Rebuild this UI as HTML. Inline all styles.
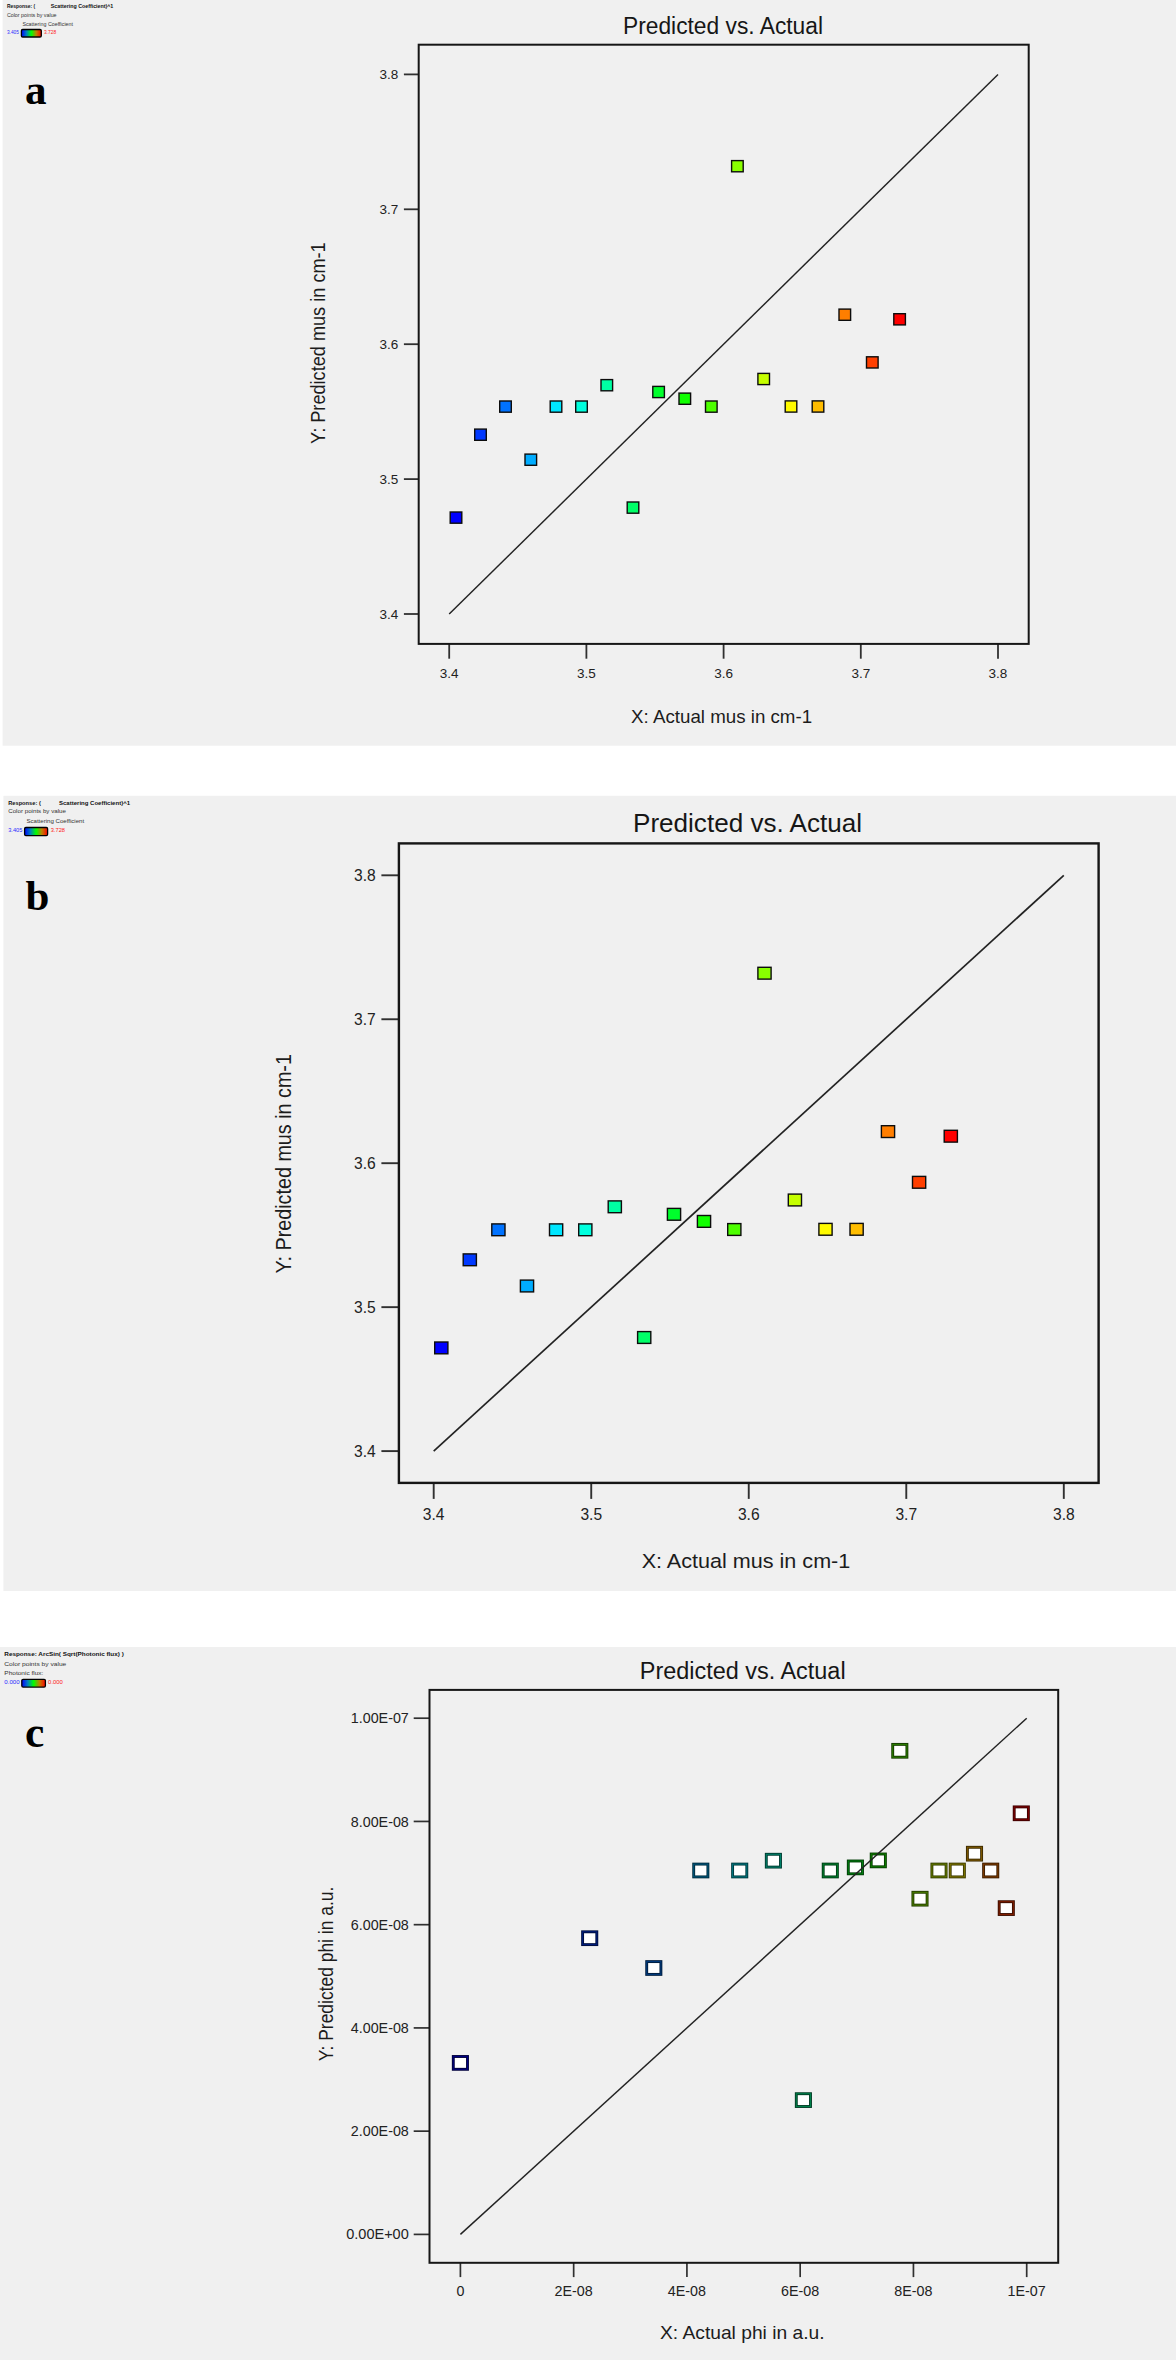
<!DOCTYPE html>
<html lang="en"><head><meta charset="utf-8"><title>Predicted vs. Actual</title>
<style>html,body{margin:0;padding:0;background:#fff}body{width:1176px;height:2360px;overflow:hidden}svg{display:block;font-family:"Liberation Sans", "DejaVu Sans", sans-serif}</style></head><body>
<svg width="1176" height="2360" viewBox="0 0 1176 2360">
<defs><linearGradient id="rb" x1="0" x2="1" y1="0" y2="0"><stop offset="0" stop-color="#0000ff"/><stop offset="0.25" stop-color="#0080c0"/><stop offset="0.5" stop-color="#00ff00"/><stop offset="0.75" stop-color="#c08000"/><stop offset="1" stop-color="#ff0000"/></linearGradient></defs>
<rect width="1176" height="2360" fill="#ffffff"/>
<rect x="2.6" y="0" width="1173.4" height="745.7" fill="#f0f0f0"/>
<line x1="449.20" y1="643.90" x2="449.20" y2="658.70" stroke="#303030" stroke-width="1.8"/>
<text x="449.20" y="677.90" font-size="13.5" text-anchor="middle" fill="#222">3.4</text>
<line x1="586.40" y1="643.90" x2="586.40" y2="658.70" stroke="#303030" stroke-width="1.8"/>
<text x="586.40" y="677.90" font-size="13.5" text-anchor="middle" fill="#222">3.5</text>
<line x1="723.60" y1="643.90" x2="723.60" y2="658.70" stroke="#303030" stroke-width="1.8"/>
<text x="723.60" y="677.90" font-size="13.5" text-anchor="middle" fill="#222">3.6</text>
<line x1="860.80" y1="643.90" x2="860.80" y2="658.70" stroke="#303030" stroke-width="1.8"/>
<text x="860.80" y="677.90" font-size="13.5" text-anchor="middle" fill="#222">3.7</text>
<line x1="998.00" y1="643.90" x2="998.00" y2="658.70" stroke="#303030" stroke-width="1.8"/>
<text x="998.00" y="677.90" font-size="13.5" text-anchor="middle" fill="#222">3.8</text>
<line x1="403.90" y1="614.00" x2="418.70" y2="614.00" stroke="#303030" stroke-width="1.8"/>
<text x="398.30" y="618.79" font-size="13.5" text-anchor="end" fill="#222">3.4</text>
<line x1="403.90" y1="479.10" x2="418.70" y2="479.10" stroke="#303030" stroke-width="1.8"/>
<text x="398.30" y="483.89" font-size="13.5" text-anchor="end" fill="#222">3.5</text>
<line x1="403.90" y1="344.20" x2="418.70" y2="344.20" stroke="#303030" stroke-width="1.8"/>
<text x="398.30" y="348.99" font-size="13.5" text-anchor="end" fill="#222">3.6</text>
<line x1="403.90" y1="209.30" x2="418.70" y2="209.30" stroke="#303030" stroke-width="1.8"/>
<text x="398.30" y="214.09" font-size="13.5" text-anchor="end" fill="#222">3.7</text>
<line x1="403.90" y1="74.40" x2="418.70" y2="74.40" stroke="#303030" stroke-width="1.8"/>
<text x="398.30" y="79.19" font-size="13.5" text-anchor="end" fill="#222">3.8</text>
<rect x="418.7" y="44.7" width="610.00" height="599.20" fill="none" stroke="#161616" stroke-width="2.0"/>
<line x1="449.2" y1="614" x2="998" y2="74.4" stroke="#222" stroke-width="1.45"/>
<rect x="450.20" y="512.00" width="11.60" height="11.20" fill="#0000ff" stroke="#0c0c0c" stroke-width="1.4"/>
<rect x="474.70" y="429.10" width="11.60" height="11.20" fill="#0038ff" stroke="#0c0c0c" stroke-width="1.4"/>
<rect x="499.70" y="401.00" width="11.60" height="11.20" fill="#0072ff" stroke="#0c0c0c" stroke-width="1.4"/>
<rect x="525.00" y="454.10" width="11.60" height="11.20" fill="#00acff" stroke="#0c0c0c" stroke-width="1.4"/>
<rect x="550.20" y="401.00" width="11.60" height="11.20" fill="#00e6ff" stroke="#0c0c0c" stroke-width="1.4"/>
<rect x="575.70" y="401.00" width="11.60" height="11.20" fill="#00ffdd" stroke="#0c0c0c" stroke-width="1.4"/>
<rect x="601.00" y="379.60" width="11.60" height="11.20" fill="#00ffa3" stroke="#0c0c0c" stroke-width="1.4"/>
<rect x="627.20" y="502.00" width="11.60" height="11.20" fill="#00ff67" stroke="#0c0c0c" stroke-width="1.4"/>
<rect x="652.80" y="386.40" width="11.60" height="11.20" fill="#00ff2c" stroke="#0c0c0c" stroke-width="1.4"/>
<rect x="679.00" y="393.10" width="11.60" height="11.20" fill="#10ff00" stroke="#0c0c0c" stroke-width="1.4"/>
<rect x="705.50" y="401.00" width="11.60" height="11.20" fill="#4dff00" stroke="#0c0c0c" stroke-width="1.4"/>
<rect x="731.60" y="160.60" width="11.60" height="11.20" fill="#89ff00" stroke="#0c0c0c" stroke-width="1.4"/>
<rect x="757.90" y="373.40" width="11.60" height="11.20" fill="#c6ff00" stroke="#0c0c0c" stroke-width="1.4"/>
<rect x="785.20" y="400.90" width="11.60" height="11.20" fill="#fffa00" stroke="#0c0c0c" stroke-width="1.4"/>
<rect x="812.20" y="400.90" width="11.60" height="11.20" fill="#ffbc00" stroke="#0c0c0c" stroke-width="1.4"/>
<rect x="839.00" y="309.10" width="11.60" height="11.20" fill="#ff7e00" stroke="#0c0c0c" stroke-width="1.4"/>
<rect x="866.50" y="356.80" width="11.60" height="11.20" fill="#ff3f00" stroke="#0c0c0c" stroke-width="1.4"/>
<rect x="893.80" y="313.70" width="11.60" height="11.20" fill="#ff0000" stroke="#0c0c0c" stroke-width="1.4"/>
<text x="723.00" y="33.50" font-size="23" text-anchor="middle" fill="#161616" textLength="200.0" lengthAdjust="spacingAndGlyphs">Predicted vs. Actual</text>
<text x="721.60" y="723.40" font-size="18.4" text-anchor="middle" fill="#1c1c1c" textLength="181.0" lengthAdjust="spacingAndGlyphs">X: Actual mus in cm-1</text>
<text x="325.00" y="343.10" font-size="19.6" text-anchor="middle" fill="#1c1c1c" textLength="201.6" lengthAdjust="spacingAndGlyphs" transform="rotate(-90 325.00 343.10)">Y: Predicted mus in cm-1</text>
<text x="25.00" y="103.80" font-size="43.2" text-anchor="start" fill="#000" font-family='"Liberation Serif", "DejaVu Serif", serif' font-weight="bold">a</text>
<rect x="3.4" y="795.8" width="1172.6" height="795.2" fill="#f0f0f0"/>
<line x1="433.70" y1="1482.90" x2="433.70" y2="1498.90" stroke="#303030" stroke-width="1.9"/>
<text x="433.70" y="1519.60" font-size="15.6" text-anchor="middle" fill="#222">3.4</text>
<line x1="591.23" y1="1482.90" x2="591.23" y2="1498.90" stroke="#303030" stroke-width="1.9"/>
<text x="591.23" y="1519.60" font-size="15.6" text-anchor="middle" fill="#222">3.5</text>
<line x1="748.75" y1="1482.90" x2="748.75" y2="1498.90" stroke="#303030" stroke-width="1.9"/>
<text x="748.75" y="1519.60" font-size="15.6" text-anchor="middle" fill="#222">3.6</text>
<line x1="906.28" y1="1482.90" x2="906.28" y2="1498.90" stroke="#303030" stroke-width="1.9"/>
<text x="906.28" y="1519.60" font-size="15.6" text-anchor="middle" fill="#222">3.7</text>
<line x1="1063.80" y1="1482.90" x2="1063.80" y2="1498.90" stroke="#303030" stroke-width="1.9"/>
<text x="1063.80" y="1519.60" font-size="15.6" text-anchor="middle" fill="#222">3.8</text>
<line x1="381.40" y1="1451.10" x2="398.90" y2="1451.10" stroke="#303030" stroke-width="1.9"/>
<text x="375.80" y="1456.64" font-size="15.6" text-anchor="end" fill="#222">3.4</text>
<line x1="381.40" y1="1307.15" x2="398.90" y2="1307.15" stroke="#303030" stroke-width="1.9"/>
<text x="375.80" y="1312.69" font-size="15.6" text-anchor="end" fill="#222">3.5</text>
<line x1="381.40" y1="1163.20" x2="398.90" y2="1163.20" stroke="#303030" stroke-width="1.9"/>
<text x="375.80" y="1168.74" font-size="15.6" text-anchor="end" fill="#222">3.6</text>
<line x1="381.40" y1="1019.25" x2="398.90" y2="1019.25" stroke="#303030" stroke-width="1.9"/>
<text x="375.80" y="1024.79" font-size="15.6" text-anchor="end" fill="#222">3.7</text>
<line x1="381.40" y1="875.30" x2="398.90" y2="875.30" stroke="#303030" stroke-width="1.9"/>
<text x="375.80" y="880.84" font-size="15.6" text-anchor="end" fill="#222">3.8</text>
<rect x="398.9" y="843.4" width="699.70" height="639.50" fill="none" stroke="#161616" stroke-width="2.4"/>
<line x1="433.7" y1="1451.1" x2="1063.8" y2="875.3" stroke="#222" stroke-width="1.7"/>
<rect x="434.70" y="1342.00" width="13.20" height="11.80" fill="#0000ff" stroke="#0c0c0c" stroke-width="1.4"/>
<rect x="463.20" y="1253.90" width="13.20" height="11.80" fill="#0039ff" stroke="#0c0c0c" stroke-width="1.4"/>
<rect x="491.80" y="1223.90" width="13.20" height="11.80" fill="#0072ff" stroke="#0c0c0c" stroke-width="1.4"/>
<rect x="520.40" y="1280.10" width="13.20" height="11.80" fill="#00acff" stroke="#0c0c0c" stroke-width="1.4"/>
<rect x="549.50" y="1223.90" width="13.20" height="11.80" fill="#00e6ff" stroke="#0c0c0c" stroke-width="1.4"/>
<rect x="578.70" y="1223.90" width="13.20" height="11.80" fill="#00ffde" stroke="#0c0c0c" stroke-width="1.4"/>
<rect x="608.20" y="1200.90" width="13.20" height="11.80" fill="#00ffa3" stroke="#0c0c0c" stroke-width="1.4"/>
<rect x="637.60" y="1331.60" width="13.20" height="11.80" fill="#00ff68" stroke="#0c0c0c" stroke-width="1.4"/>
<rect x="667.40" y="1208.40" width="13.20" height="11.80" fill="#00ff2c" stroke="#0c0c0c" stroke-width="1.4"/>
<rect x="697.40" y="1215.50" width="13.20" height="11.80" fill="#10ff00" stroke="#0c0c0c" stroke-width="1.4"/>
<rect x="727.70" y="1223.60" width="13.20" height="11.80" fill="#4dff00" stroke="#0c0c0c" stroke-width="1.4"/>
<rect x="757.90" y="967.30" width="13.20" height="11.80" fill="#89ff00" stroke="#0c0c0c" stroke-width="1.4"/>
<rect x="788.30" y="1194.10" width="13.20" height="11.80" fill="#c6ff00" stroke="#0c0c0c" stroke-width="1.4"/>
<rect x="818.90" y="1223.40" width="13.20" height="11.80" fill="#fffb00" stroke="#0c0c0c" stroke-width="1.4"/>
<rect x="850.00" y="1223.40" width="13.20" height="11.80" fill="#ffbd00" stroke="#0c0c0c" stroke-width="1.4"/>
<rect x="881.40" y="1125.70" width="13.20" height="11.80" fill="#ff7e00" stroke="#0c0c0c" stroke-width="1.4"/>
<rect x="912.50" y="1176.40" width="13.20" height="11.80" fill="#ff3f00" stroke="#0c0c0c" stroke-width="1.4"/>
<rect x="944.20" y="1130.30" width="13.20" height="11.80" fill="#ff0000" stroke="#0c0c0c" stroke-width="1.4"/>
<text x="747.50" y="831.70" font-size="26" text-anchor="middle" fill="#161616" textLength="229.0" lengthAdjust="spacingAndGlyphs">Predicted vs. Actual</text>
<text x="746.00" y="1568.10" font-size="20.5" text-anchor="middle" fill="#1c1c1c" textLength="208.6" lengthAdjust="spacingAndGlyphs">X: Actual mus in cm-1</text>
<text x="290.80" y="1163.80" font-size="22" text-anchor="middle" fill="#1c1c1c" textLength="219.4" lengthAdjust="spacingAndGlyphs" transform="rotate(-90 290.80 1163.80)">Y: Predicted mus in cm-1</text>
<text x="25.60" y="910.10" font-size="43" text-anchor="start" fill="#000" font-family='"Liberation Serif", "DejaVu Serif", serif' font-weight="bold">b</text>
<rect x="0" y="1647" width="1176" height="713" fill="#f0f0f0"/>
<line x1="460.40" y1="2262.80" x2="460.40" y2="2277.10" stroke="#303030" stroke-width="1.7"/>
<text x="460.40" y="2296.00" font-size="14.3" text-anchor="middle" fill="#222">0</text>
<line x1="573.66" y1="2262.80" x2="573.66" y2="2277.10" stroke="#303030" stroke-width="1.7"/>
<text x="573.66" y="2296.00" font-size="14.3" text-anchor="middle" fill="#222">2E-08</text>
<line x1="686.92" y1="2262.80" x2="686.92" y2="2277.10" stroke="#303030" stroke-width="1.7"/>
<text x="686.92" y="2296.00" font-size="14.3" text-anchor="middle" fill="#222">4E-08</text>
<line x1="800.18" y1="2262.80" x2="800.18" y2="2277.10" stroke="#303030" stroke-width="1.7"/>
<text x="800.18" y="2296.00" font-size="14.3" text-anchor="middle" fill="#222">6E-08</text>
<line x1="913.44" y1="2262.80" x2="913.44" y2="2277.10" stroke="#303030" stroke-width="1.7"/>
<text x="913.44" y="2296.00" font-size="14.3" text-anchor="middle" fill="#222">8E-08</text>
<line x1="1026.70" y1="2262.80" x2="1026.70" y2="2277.10" stroke="#303030" stroke-width="1.7"/>
<text x="1026.70" y="2296.00" font-size="14.3" text-anchor="middle" fill="#222">1E-07</text>
<line x1="413.70" y1="2234.40" x2="429.50" y2="2234.40" stroke="#303030" stroke-width="1.7"/>
<text x="408.80" y="2239.48" font-size="14.3" text-anchor="end" fill="#222" textLength="62.6" lengthAdjust="spacingAndGlyphs">0.00E+00</text>
<line x1="413.70" y1="2131.16" x2="429.50" y2="2131.16" stroke="#303030" stroke-width="1.7"/>
<text x="408.80" y="2136.24" font-size="14.3" text-anchor="end" fill="#222">2.00E-08</text>
<line x1="413.70" y1="2027.92" x2="429.50" y2="2027.92" stroke="#303030" stroke-width="1.7"/>
<text x="408.80" y="2033.00" font-size="14.3" text-anchor="end" fill="#222">4.00E-08</text>
<line x1="413.70" y1="1924.68" x2="429.50" y2="1924.68" stroke="#303030" stroke-width="1.7"/>
<text x="408.80" y="1929.76" font-size="14.3" text-anchor="end" fill="#222">6.00E-08</text>
<line x1="413.70" y1="1821.44" x2="429.50" y2="1821.44" stroke="#303030" stroke-width="1.7"/>
<text x="408.80" y="1826.52" font-size="14.3" text-anchor="end" fill="#222">8.00E-08</text>
<line x1="413.70" y1="1718.20" x2="429.50" y2="1718.20" stroke="#303030" stroke-width="1.7"/>
<text x="408.80" y="1723.28" font-size="14.3" text-anchor="end" fill="#222">1.00E-07</text>
<rect x="429.5" y="1689.9" width="628.70" height="572.90" fill="none" stroke="#161616" stroke-width="2.0"/>
<rect x="453.30" y="2056.50" width="14.2" height="12.8" fill="#ffffff" stroke="#00003d" stroke-width="2.9"/>
<rect x="453.30" y="2056.50" width="14.2" height="12.8" fill="none" stroke="#000080" stroke-width="1"/>
<rect x="582.60" y="1931.80" width="14.2" height="12.8" fill="#ffffff" stroke="#000e3d" stroke-width="2.9"/>
<rect x="582.60" y="1931.80" width="14.2" height="12.8" fill="none" stroke="#001e80" stroke-width="1"/>
<rect x="646.70" y="1961.60" width="14.2" height="12.8" fill="#ffffff" stroke="#001d3d" stroke-width="2.9"/>
<rect x="646.70" y="1961.60" width="14.2" height="12.8" fill="none" stroke="#003c80" stroke-width="1"/>
<rect x="693.70" y="1864.10" width="14.2" height="12.8" fill="#ffffff" stroke="#002b3d" stroke-width="2.9"/>
<rect x="693.70" y="1864.10" width="14.2" height="12.8" fill="none" stroke="#005a80" stroke-width="1"/>
<rect x="732.60" y="1864.10" width="14.2" height="12.8" fill="#ffffff" stroke="#003a3d" stroke-width="2.9"/>
<rect x="732.60" y="1864.10" width="14.2" height="12.8" fill="none" stroke="#007880" stroke-width="1"/>
<rect x="766.30" y="1854.30" width="14.2" height="12.8" fill="#ffffff" stroke="#003d32" stroke-width="2.9"/>
<rect x="766.30" y="1854.30" width="14.2" height="12.8" fill="none" stroke="#008069" stroke-width="1"/>
<rect x="796.30" y="2093.70" width="14.2" height="12.8" fill="#ffffff" stroke="#003d24" stroke-width="2.9"/>
<rect x="796.30" y="2093.70" width="14.2" height="12.8" fill="none" stroke="#00804b" stroke-width="1"/>
<rect x="823.20" y="1864.10" width="14.2" height="12.8" fill="#ffffff" stroke="#003d16" stroke-width="2.9"/>
<rect x="823.20" y="1864.10" width="14.2" height="12.8" fill="none" stroke="#00802d" stroke-width="1"/>
<rect x="848.30" y="1861.00" width="14.2" height="12.8" fill="#ffffff" stroke="#003d07" stroke-width="2.9"/>
<rect x="848.30" y="1861.00" width="14.2" height="12.8" fill="none" stroke="#00800f" stroke-width="1"/>
<rect x="871.20" y="1854.00" width="14.2" height="12.8" fill="#ffffff" stroke="#073d00" stroke-width="2.9"/>
<rect x="871.20" y="1854.00" width="14.2" height="12.8" fill="none" stroke="#0f8000" stroke-width="1"/>
<rect x="892.70" y="1744.40" width="14.2" height="12.8" fill="#ffffff" stroke="#163d00" stroke-width="2.9"/>
<rect x="892.70" y="1744.40" width="14.2" height="12.8" fill="none" stroke="#2d8000" stroke-width="1"/>
<rect x="912.90" y="1892.30" width="14.2" height="12.8" fill="#ffffff" stroke="#243d00" stroke-width="2.9"/>
<rect x="912.90" y="1892.30" width="14.2" height="12.8" fill="none" stroke="#4b8000" stroke-width="1"/>
<rect x="931.90" y="1864.10" width="14.2" height="12.8" fill="#ffffff" stroke="#323d00" stroke-width="2.9"/>
<rect x="931.90" y="1864.10" width="14.2" height="12.8" fill="none" stroke="#698000" stroke-width="1"/>
<rect x="950.20" y="1864.10" width="14.2" height="12.8" fill="#ffffff" stroke="#3d3a00" stroke-width="2.9"/>
<rect x="950.20" y="1864.10" width="14.2" height="12.8" fill="none" stroke="#807800" stroke-width="1"/>
<rect x="967.40" y="1847.30" width="14.2" height="12.8" fill="#ffffff" stroke="#3d2b00" stroke-width="2.9"/>
<rect x="967.40" y="1847.30" width="14.2" height="12.8" fill="none" stroke="#805a00" stroke-width="1"/>
<rect x="983.60" y="1864.10" width="14.2" height="12.8" fill="#ffffff" stroke="#3d1d00" stroke-width="2.9"/>
<rect x="983.60" y="1864.10" width="14.2" height="12.8" fill="none" stroke="#803c00" stroke-width="1"/>
<rect x="999.20" y="1901.70" width="14.2" height="12.8" fill="#ffffff" stroke="#3d0e00" stroke-width="2.9"/>
<rect x="999.20" y="1901.70" width="14.2" height="12.8" fill="none" stroke="#801e00" stroke-width="1"/>
<rect x="1014.20" y="1806.90" width="14.2" height="12.8" fill="#ffffff" stroke="#3d0000" stroke-width="2.9"/>
<rect x="1014.20" y="1806.90" width="14.2" height="12.8" fill="none" stroke="#800000" stroke-width="1"/>
<line x1="460.4" y1="2234.4" x2="1026.7" y2="1718.2" stroke="#222" stroke-width="1.45"/>
<text x="742.70" y="1679.20" font-size="23.5" text-anchor="middle" fill="#161616" textLength="205.8" lengthAdjust="spacingAndGlyphs">Predicted vs. Actual</text>
<text x="742.30" y="2338.90" font-size="18.6" text-anchor="middle" fill="#1c1c1c" textLength="164.6" lengthAdjust="spacingAndGlyphs">X: Actual phi in a.u.</text>
<text x="333.30" y="1973.90" font-size="21" text-anchor="middle" fill="#1c1c1c" textLength="174.5" lengthAdjust="spacingAndGlyphs" transform="rotate(-90 333.30 1973.90)">Y: Predicted phi in a.u.</text>
<text x="25.10" y="1746.60" font-size="43.5" text-anchor="start" fill="#000" font-family='"Liberation Serif", "DejaVu Serif", serif' font-weight="bold">c</text>
<text x="6.90" y="8.00" font-size="5.2" text-anchor="start" fill="#111" font-weight="bold" textLength="28.3" lengthAdjust="spacingAndGlyphs">Response: (</text>
<text x="50.80" y="8.00" font-size="5.2" text-anchor="start" fill="#111" font-weight="bold" textLength="62.5" lengthAdjust="spacingAndGlyphs">Scattering Coefficient)^1</text>
<text x="6.90" y="16.60" font-size="5.2" text-anchor="start" fill="#333" textLength="49.7" lengthAdjust="spacingAndGlyphs">Color points by value</text>
<text x="22.40" y="25.90" font-size="5.2" text-anchor="start" fill="#333" textLength="50.6" lengthAdjust="spacingAndGlyphs">Scattering Coefficient</text>
<text x="6.90" y="34.40" font-size="5.2" text-anchor="start" fill="#2a2aff" textLength="12.0" lengthAdjust="spacingAndGlyphs">3.405</text>
<text x="43.90" y="34.40" font-size="5.2" text-anchor="start" fill="#ff2020" textLength="12.2" lengthAdjust="spacingAndGlyphs">3.728</text>
<rect x="21.4" y="29.5" width="19.90" height="7.50" rx="1.3" fill="url(#rb)" stroke="#000" stroke-width="1.3"/>
<text x="8.20" y="804.50" font-size="5.9" text-anchor="start" fill="#111" font-weight="bold" textLength="32.6" lengthAdjust="spacingAndGlyphs">Response: (</text>
<text x="59.00" y="804.50" font-size="5.9" text-anchor="start" fill="#111" font-weight="bold" textLength="71.0" lengthAdjust="spacingAndGlyphs">Scattering Coefficient)^1</text>
<text x="8.20" y="812.80" font-size="5.9" text-anchor="start" fill="#333" textLength="57.8" lengthAdjust="spacingAndGlyphs">Color points by value</text>
<text x="26.40" y="823.40" font-size="5.9" text-anchor="start" fill="#333" textLength="57.8" lengthAdjust="spacingAndGlyphs">Scattering Coefficient</text>
<text x="8.20" y="831.90" font-size="5.9" text-anchor="start" fill="#2a2aff" textLength="14.2" lengthAdjust="spacingAndGlyphs">3.405</text>
<text x="50.70" y="831.90" font-size="5.9" text-anchor="start" fill="#ff2020" textLength="14.3" lengthAdjust="spacingAndGlyphs">3.728</text>
<rect x="24.6" y="827.5" width="23.00" height="8.10" rx="1.3" fill="url(#rb)" stroke="#000" stroke-width="1.3"/>
<text x="4.30" y="1656.20" font-size="6.2" text-anchor="start" fill="#111" font-weight="bold" textLength="119.5" lengthAdjust="spacingAndGlyphs">Response: ArcSin( Sqrt(Photonic flux) )</text>
<text x="4.30" y="1665.70" font-size="6.2" text-anchor="start" fill="#333" textLength="62.0" lengthAdjust="spacingAndGlyphs">Color points by value</text>
<text x="4.30" y="1674.60" font-size="6.2" text-anchor="start" fill="#333" textLength="39.1" lengthAdjust="spacingAndGlyphs">Photonic flux:</text>
<text x="4.30" y="1684.40" font-size="6.2" text-anchor="start" fill="#2a2aff" textLength="15.3" lengthAdjust="spacingAndGlyphs">0.000</text>
<text x="48.10" y="1684.40" font-size="6.2" text-anchor="start" fill="#ff2020" textLength="14.8" lengthAdjust="spacingAndGlyphs">0.000</text>
<rect x="21.8" y="1679.3" width="23.60" height="7.80" rx="1.3" fill="url(#rb)" stroke="#000" stroke-width="1.3"/>
</svg></body></html>
